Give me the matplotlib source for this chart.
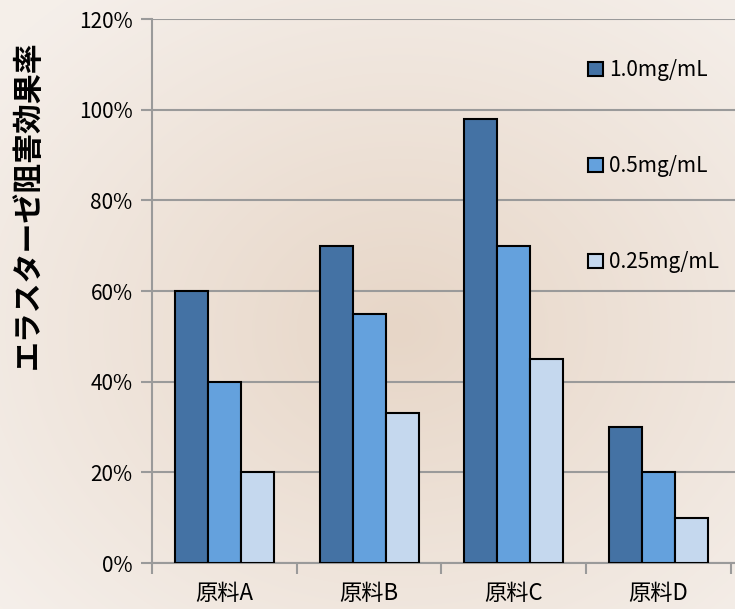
import numpy as np
import matplotlib.pyplot as plt
from matplotlib.ticker import FixedLocator, PercentFormatter

plt.rcParams['font.family'] = ['Noto Sans CJK JP', 'DejaVu Sans']

# data
categories = ['原料A', '原料B', '原料C', '原料D']
series_names = ['1.0mg/mL', '0.5mg/mL', '0.25mg/mL']
val_10 = [60, 70, 98, 30]
val_05 = [40, 55, 70, 20]
val_025 = [20, 33, 45, 10]
colors = ['#4472A4', '#64A1DD', '#C5D8EE']

fig = plt.figure(figsize=(7.35, 6.09), dpi=100)

# radial beige background
bg = fig.add_axes([0, 0, 1, 1], zorder=-10)
yy, xx = np.mgrid[0:609, 0:735]
r = np.sqrt(((xx - 400) / 520.0) ** 2 + ((yy - 330) / 430.0) ** 2)
r = np.clip(r, 0, 1)[..., None]
inner = np.array([231, 214, 199]) / 255.0
outer = np.array([245, 239, 234]) / 255.0
img = inner * (1 - r) + outer * r
bg.imshow(img, aspect='auto', extent=[0, 1, 0, 1], origin='upper')
bg.axis('off')

ax = fig.add_axes([152 / 735, 1 - 563 / 609, 1 - 152 / 735, (563 - 19) / 609])
ax.patch.set_alpha(0)

x = np.arange(len(categories))
w = 0.228
series = [val_10, val_05, val_025]
for i, (vals, name) in enumerate(zip(series, series_names)):
    ax.bar(x + (i - 1) * w, vals, width=w, color=colors[i], edgecolor='black',
           linewidth=1.5, label=name, zorder=3)

ax.set_ylim(0, 120)
ax.set_xlim(-0.5, 3.528)
ax.set_yticks(np.arange(0, 121, 20))
ax.yaxis.set_major_formatter(PercentFormatter(decimals=0))
ax.grid(axis='y', color='#9A9A9A', linewidth=1.5, zorder=0)
ax.set_xticks(x)
ax.set_xticklabels(categories, fontsize=16)
ax.xaxis.set_minor_locator(FixedLocator([-0.5, 0.5, 1.5, 2.5, 3.5]))
ax.tick_params(axis='x', which='major', length=0, pad=14)
ax.tick_params(axis='x', which='minor', length=8, width=1.5, color='#9A9A9A')
ax.tick_params(axis='y', length=8, width=1.5, color='#9A9A9A', labelsize=15, pad=6)

for s in ['top', 'right']:
    ax.spines[s].set_visible(False)
for s in ['left', 'bottom']:
    ax.spines[s].set_color('#9A9A9A')
    ax.spines[s].set_linewidth(1.5)

fig.text(28 / 735, 1 - 205 / 609, 'エラスターゼ阻害効果率', rotation=90,
         fontsize=21.5, fontweight='bold', ha='center', va='center')

ax.legend(loc='upper left', bbox_to_anchor=(578 / 735, 1 - 49 / 609),
          bbox_transform=fig.transFigure, frameon=False, fontsize=15,
          handlelength=0.7, handleheight=0.7, handletextpad=0.3,
          labelspacing=3.55, borderpad=0)

fig.savefig('out.png', dpi=100)
